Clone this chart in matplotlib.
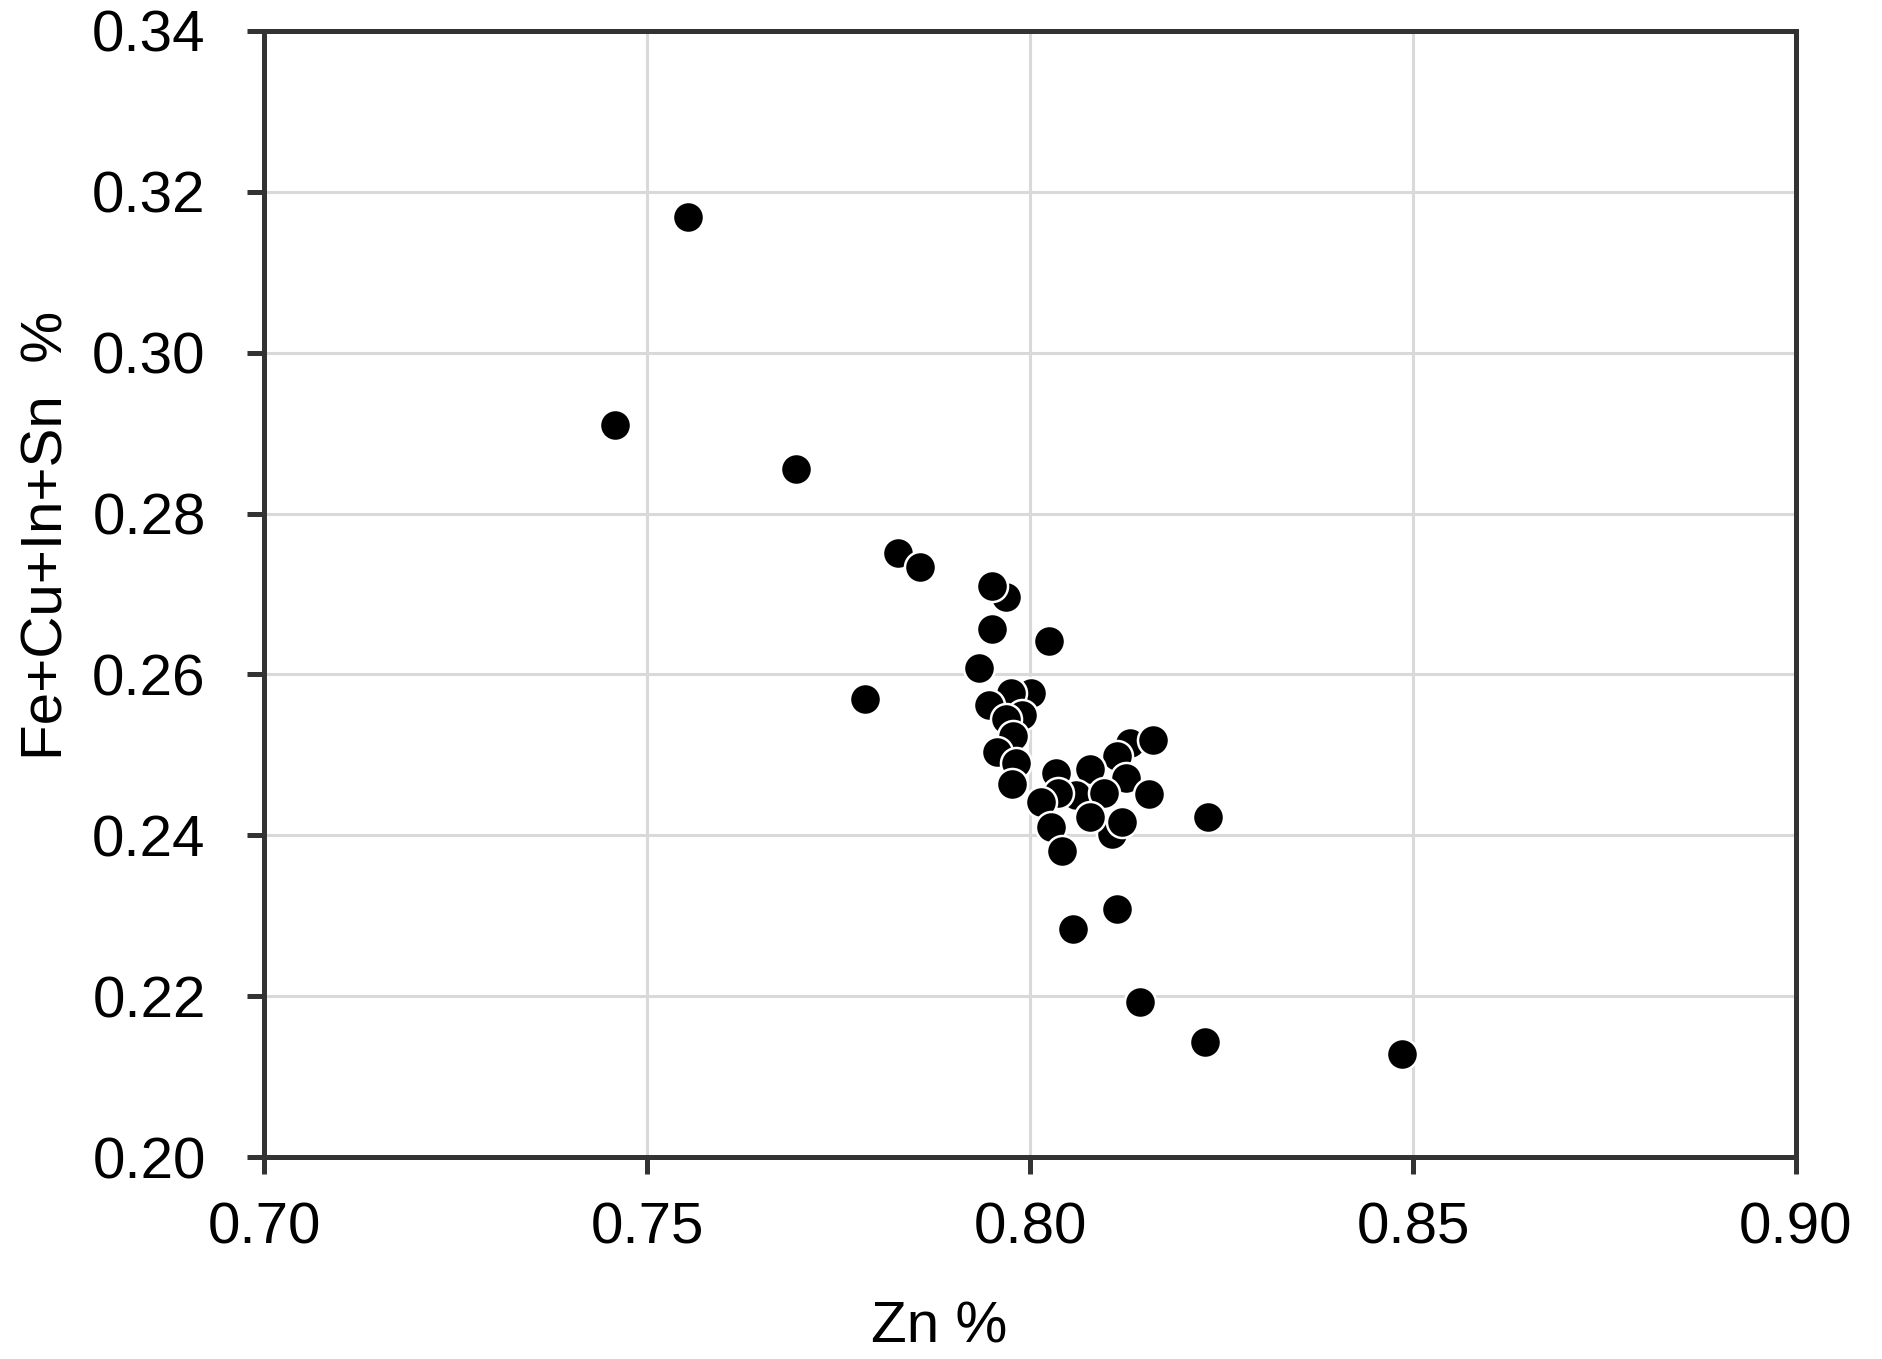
import matplotlib
matplotlib.use('Agg')

import matplotlib.pyplot as plt

# Zn % vs Fe+Cu+In+Sn %
zn = [
    0.7553, 0.7458, 0.7694, 0.7828, 0.7857, 0.7784,
    0.7969, 0.7951, 0.7951, 0.8025, 0.7934, 0.8001, 0.7975, 0.7947,
    0.7990, 0.7969, 0.7978, 0.7957, 0.7982, 0.7977,
    0.8131, 0.8161, 0.8114, 0.8078, 0.8034, 0.8125, 0.8060, 0.8037,
    0.8097, 0.8155, 0.8014, 0.8107, 0.8078, 0.8120, 0.8027, 0.8233,
    0.8042, 0.8114, 0.8056, 0.8143, 0.8229, 0.8485,
]
fe_cu_in_sn = [
    0.3169, 0.2910, 0.2856, 0.2751, 0.2733, 0.2569,
    0.2696, 0.2710, 0.2657, 0.2642, 0.2608, 0.2577, 0.2577, 0.2562,
    0.2550, 0.2544, 0.2523, 0.2503, 0.2490, 0.2464,
    0.2515, 0.2519, 0.2498, 0.2483, 0.2477, 0.2471, 0.2450, 0.2453,
    0.2452, 0.2451, 0.2442, 0.2402, 0.2423, 0.2417, 0.2410, 0.2423,
    0.2381, 0.2309, 0.2284, 0.2193, 0.2143, 0.2128,
]

x_ticks = [0.70, 0.75, 0.80, 0.85, 0.90]
y_ticks = [0.20, 0.22, 0.24, 0.26, 0.28, 0.30, 0.32, 0.34]

plt.rcParams['font.family'] = ['Liberation Sans', 'DejaVu Sans']

fig = plt.figure(figsize=(18.82, 13.59), dpi=100)
ax = fig.add_axes([0.1403, 0.1486, 0.8140, 0.8286])

ax.scatter(zn, fe_cu_in_sn, s=500, color='black', edgecolors='white',
           linewidths=1.8, zorder=3)

ax.set_xlim(0.70, 0.90)
ax.set_ylim(0.20, 0.34)
ax.set_xticks(x_ticks)
ax.set_yticks(y_ticks)
ax.set_xticklabels([f"{v:.2f}" for v in x_ticks])
ax.set_yticklabels([f"{v:.2f}" for v in y_ticks])

ax.grid(True, color='#d9d9d9', linewidth=2.2, zorder=0)
ax.set_axisbelow(True)

for side in ['left', 'right', 'top', 'bottom']:
    ax.spines[side].set_color('#333333')
    ax.spines[side].set_linewidth(3.6)

ax.tick_params(axis='x', direction='out', length=12, width=3.6,
               color='#333333', labelsize=42, pad=20)
ax.tick_params(axis='y', direction='out', length=12, width=3.6,
               color='#333333', labelsize=42, pad=30)

ax.set_xlabel("Zn %", fontsize=42)
ax.set_ylabel("Fe+Cu+In+Sn  %", fontsize=42)
ax.xaxis.set_label_coords(0.441, -0.127)
ax.yaxis.set_label_coords(-0.124, 0.552)

fig.savefig("out.png", dpi=100)
plt.close(fig)
